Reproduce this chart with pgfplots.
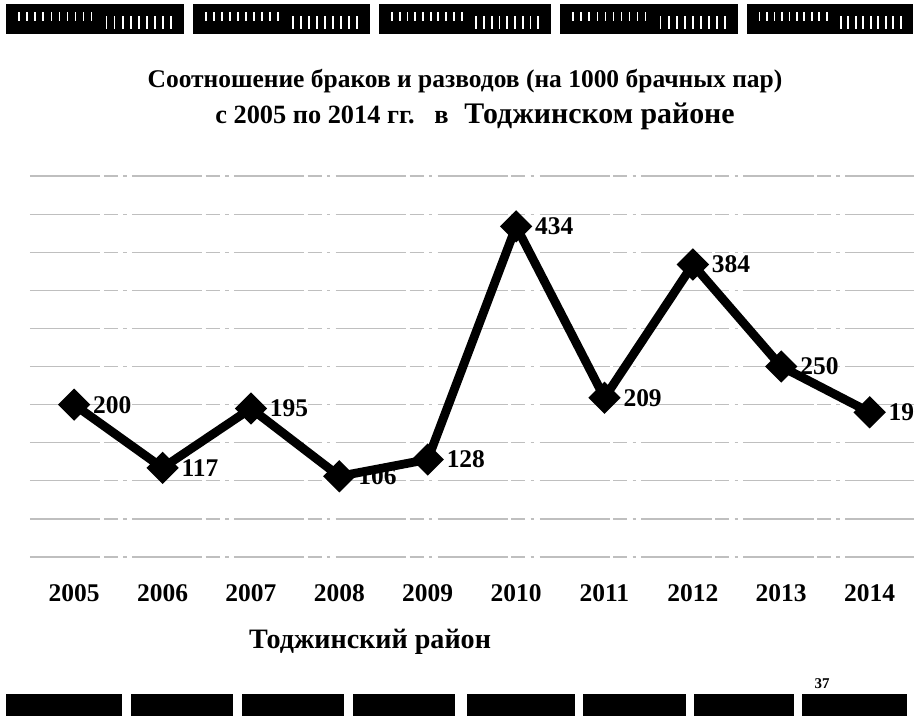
\documentclass[border=0pt]{standalone}
\usepackage{fontspec}
\setmainfont{Liberation Serif}
\usepackage{pgfplots}
\pgfplotsset{compat=1.18}

\begin{document}
\begin{tikzpicture}[x=0.02cm,y=0.02cm]
\begin{scope}
\clip (0,0) rectangle (915,716);
% scanned page header strip
\foreach \a/\b in {6/184,193/370,379/551,560/738,747/913}{
  \fill[black] (\a,682) rectangle (\b,712);
  \foreach \i in {0,...,9}
    \fill[white] ({\a+0.07*(\b-\a)+\i*0.045*(\b-\a)},695) rectangle ++(1.8,9);
  \foreach \i in {0,...,8}
    \fill[white] ({\a+0.56*(\b-\a)+\i*0.045*(\b-\a)},687) rectangle ++(1.8,13);
}
% footer strip
\foreach \a/\b in {6/122,131/233,242/344,353/455,467/575,583/686,694/794,802/907}
  \fill[black] (\a,0) rectangle (\b,22);

\node[anchor=base, font=\fontsize{14.5}{17}\selectfont\bfseries] at (465,628)
  {Соотношение браков и разводов (на 1000 брачных пар)};
\node[anchor=base, font=\fontsize{15}{17}\selectfont\bfseries] at (475,592)
  {с 2005 по 2014 гг.\ \ \ в\hspace{0.6em}{\fontsize{17}{19}\selectfont Тоджинском районе}};

\begin{axis}[
  at={(0.6cm,3.18cm)}, anchor=south west,
  scale only axis, width=17.68cm, height=7.62cm,
  xmin=2004.5, xmax=2014.5, ymin=0, ymax=500,
  axis line style={draw=none},
  major tick length=0pt,
  xtick={2005,...,2014},
  xticklabels={2005,2006,2007,2008,2009,2010,2011,2012,2013,2014},
  xticklabel style={font=\fontsize{14.5}{16}\selectfont\bfseries, yshift=-12pt},
  ytick={0,50,...,500}, yticklabels={},
  ymajorgrids, grid style={gray!50, line width=0.7pt, dash pattern=on 40pt off 2pt on 8pt off 3pt on 2pt off 3pt},
  clip=false,
]
\addplot[black, line width=5pt, mark=square*, mark size=4pt,
  mark options={rotate=45, solid},
  nodes near coords={\pgfmathprintnumber[assume math mode=true]{\pgfplotspointmeta}},
  point meta=y,
  nodes near coords align={anchor=west},
  every node near coord/.append style={anchor=west, xshift=5pt,
    font=\fontsize{14.5}{16}\selectfont\bfseries, text=black}]
coordinates {
  (2005,200)(2006,117)(2007,195)(2008,106)(2009,128)
  (2010,434)(2011,209)(2012,384)(2013,250)(2014,190)};
\end{axis}

\node[anchor=base, font=\fontsize{16}{18}\selectfont\bfseries] at (370,68)
  {Тоджинский район};
\node[anchor=base, font=\fontsize{8.5}{10}\selectfont\bfseries] at (822,28) {37};
\end{scope}
\pgfresetboundingbox
\useasboundingbox (0,0) rectangle (915,716);
\end{tikzpicture}
\end{document}
